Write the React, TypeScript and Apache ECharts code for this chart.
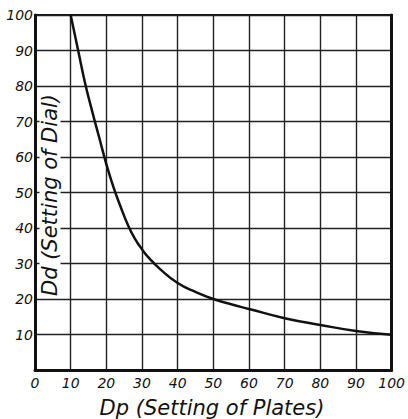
import React, { useEffect, useRef } from "react";
import * as echarts from "echarts";

const dpValues = [10, 12, 14, 16, 18, 20, 22, 24, 26, 28, 30, 32, 35, 40, 45, 50, 55, 60, 70, 80, 90, 100];
const ddValues = [100, 90.5, 81, 73, 65.5, 58, 51.5, 46, 41, 37, 34, 31.5, 28.5, 24.5, 22, 20, 18.5, 17.2, 14.6, 12.7, 11, 9.9];
const xTitle = "Dp (Setting of Plates)";
const yTitle = "Dd (Setting of Dial)";

const FONT = "DejaVu Sans";

export default function App() {
  const ref = useRef<HTMLDivElement>(null);
  useEffect(() => {
    if (!ref.current) return;
    const chart = echarts.init(ref.current, null, { renderer: "svg" });
    const data = dpValues.map((x, i) => [x, ddValues[i]]);
    chart.setOption({
      animation: false,
      backgroundColor: "#fff",
      grid: { left: 35, right: 12, top: 15, bottom: 49, show: true, borderColor: "#111", borderWidth: 2 },
      xAxis: {
        type: "value",
        min: 0,
        max: 100,
        interval: 10,
        axisLine: { show: true, lineStyle: { color: "#111", width: 3 } },
        axisTick: { show: false },
        splitLine: { show: true, lineStyle: { color: "#222", width: 1.4 } },
        axisLabel: { color: "#111", fontFamily: FONT, fontStyle: "italic", fontSize: 14, margin: 6 },
      },
      yAxis: [
        {
          type: "value",
          min: 0,
          max: 100,
          interval: 10,
          axisLine: { show: true, lineStyle: { color: "#111", width: 3 } },
          axisTick: { show: false },
          splitLine: { show: true, lineStyle: { color: "#222", width: 1.4 } },
          axisLabel: {
            color: "#111",
            fontFamily: FONT,
            fontStyle: "italic",
            fontSize: 14,
            margin: 2,
            formatter: (v: number) => (v === 0 ? "" : String(v)),
          },
        },
        {
          type: "value",
          position: "right",
          min: 0,
          max: 100,
          interval: 10,
          axisLine: { show: true, lineStyle: { color: "#111", width: 3 } },
          axisTick: { show: false },
          splitLine: { show: false },
          axisLabel: { show: false },
        },
      ],
      series: [
        {
          type: "line",
          data,
          smooth: true,
          showSymbol: false,
          lineStyle: { color: "#111", width: 2.5 },
        },
      ],
      graphic: [
        {
          type: "text",
          x: 212,
          y: 408,
          style: {
            text: xTitle,
            fontFamily: FONT,
            fontStyle: "italic",
            fontSize: 21,
            fill: "#111",
            align: "center",
            verticalAlign: "middle",
          },
        },
        {
          type: "text",
          x: 50,
          y: 195,
          rotation: Math.PI / 2,
          z: 10,
          style: {
            text: yTitle,
            fontFamily: FONT,
            fontStyle: "italic",
            fontSize: 21,
            fill: "#111",
            align: "center",
            verticalAlign: "middle",
            backgroundColor: "#fff",
            padding: [0, 2],
          },
        },
      ],
    });
    return () => chart.dispose();
  }, []);
  return <div ref={ref} style={{ width: 408, height: 419, position: "absolute", left: 0, top: 0 }} />;
}
